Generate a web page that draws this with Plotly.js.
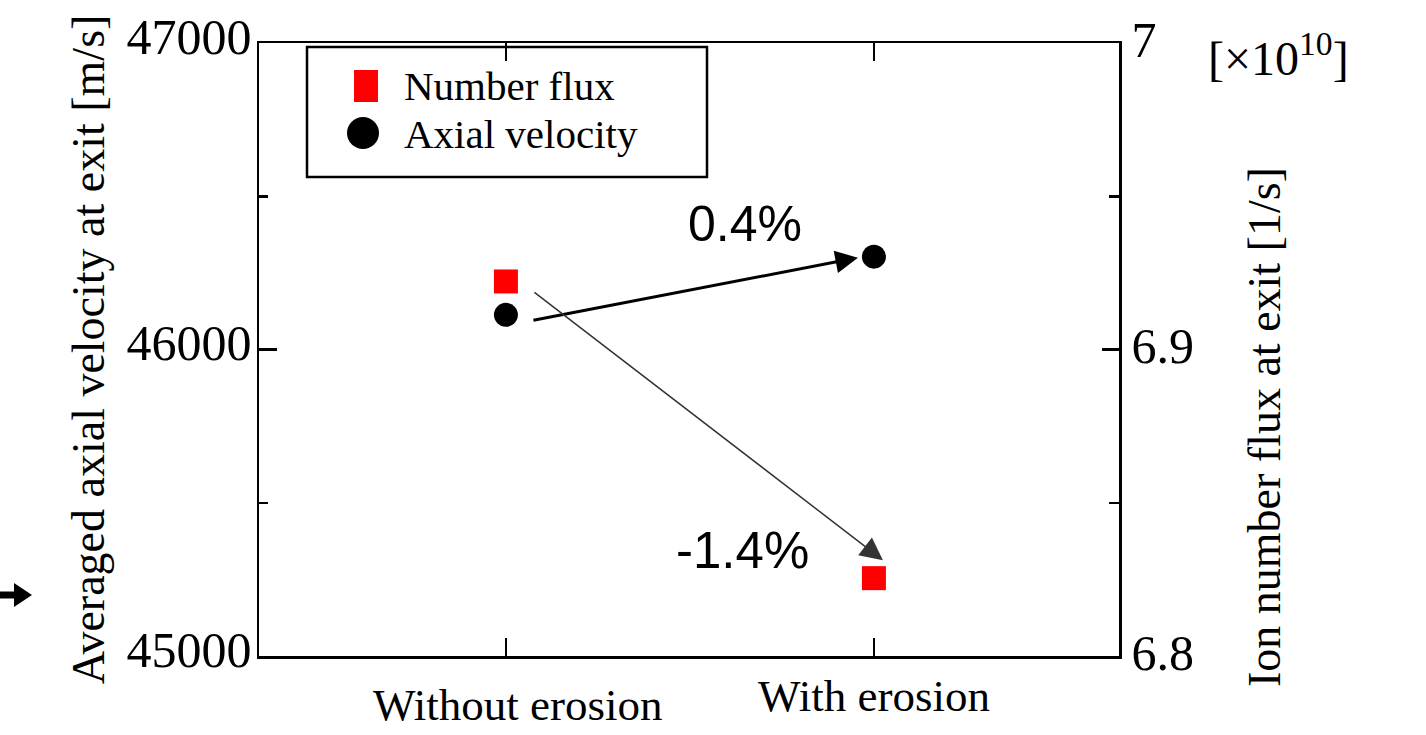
<!DOCTYPE html>
<html>
<head>
<meta charset="utf-8">
<script src="https://cdn.plot.ly/plotly-3.0.1.min.js"></script>
<style>html,body{margin:0;padding:0;background:#fff;}#chart{width:1426px;height:735px;}</style>
</head>
<body>
<div id="chart"></div>
<script>
// ---- data ----
const categories = ["Without erosion", "With erosion"];
const numberFlux = [6.9222, 6.8254];        // [x10^10 1/s]
const axialVelocity = [46113, 46303];       // [m/s]
const leftTickVals = [45000, 46000, 47000];
const rightTickVals = [6.8, 6.9, 7.0];
const seriesNames = ["Number flux", "Axial velocity"];

const serif = "Liberation Serif, Times New Roman, serif";
const sans = "Liberation Sans, Arial, sans-serif";

// plot-area pixel frame (for placing decorations in paper coordinates)
const L = 259, R = 1119, T = 43, B = 656;
const px = p => (p - L) / (R - L);
const py = p => (B - p) / (B - T);

const pct = a => ((a[1] / a[0] - 1) * 100).toFixed(1) + "%";

const traces = [
  { x: categories, y: numberFlux, yaxis: "y2", type: "scatter", mode: "markers",
    name: seriesNames[0], showlegend: false, marker: { symbol: "square", size: 24, color: "#ff0000" } },
  { x: categories, y: axialVelocity, yaxis: "y", type: "scatter", mode: "markers",
    name: seriesNames[1], showlegend: false, marker: { symbol: "circle", size: 24, color: "#000000" } }
];

const layout = {
  width: 1426, height: 735,
  margin: { l: L, r: 1426 - R, t: T, b: 735 - B },
  paper_bgcolor: "#ffffff", plot_bgcolor: "#ffffff",
  font: { family: serif, color: "#000" },
  showlegend: false,
  xaxis: {
    type: "category", range: [-0.671, 1.666],
    showline: true, linecolor: "#000", linewidth: 2.5, mirror: "ticks",
    ticks: "inside", ticklen: 18, tickwidth: 2.5, tickcolor: "#000",
    showgrid: false, zeroline: false, showticklabels: false
  },
  yaxis: {
    range: [45000, 47000], showline: true, linecolor: "#000", linewidth: 2.5,
    ticks: "inside", ticklen: 18, tickwidth: 2.5, tickcolor: "#000",
    tickmode: "array", tickvals: leftTickVals, ticktext: leftTickVals.map(String),
    minor: { tickvals: [45500, 46500], ticks: "inside", ticklen: 9, tickwidth: 2.5, tickcolor: "#000" },
    showgrid: false, zeroline: false, ticklabelshift: -7, ticklabelstandoff: -5,
    tickfont: { family: serif, size: 50, color: "#000" },
    title: { text: "Averaged axial velocity at exit [m/s]", font: { family: serif, size: 46, color: "#000" }, standoff: 8 }
  },
  yaxis2: {
    overlaying: "y", side: "right", range: [6.8, 7.0],
    showline: true, linecolor: "#000", linewidth: 2.5,
    ticks: "inside", ticklen: 17, tickwidth: 2.5, tickcolor: "#000",
    tickmode: "array", tickvals: rightTickVals, ticktext: rightTickVals.map(v => String(+v.toFixed(1))),
    minor: { tickvals: [6.85, 6.95], ticks: "inside", ticklen: 10, tickwidth: 2.5, tickcolor: "#000" },
    showgrid: false, zeroline: false, ticklabelshift: -4,
    tickfont: { family: serif, size: 50, color: "#000" }
  },
  shapes: [
    // legend box
    { type: "rect", xref: "paper", yref: "paper", x0: px(307), x1: px(707), y0: py(177), y1: py(47),
      line: { color: "#000", width: 2.5 }, fillcolor: "#fff", layer: "below" },
    // legend symbols
    { type: "rect", xref: "paper", yref: "paper", x0: px(354), x1: px(378), y0: py(102), y1: py(70),
      line: { width: 0 }, fillcolor: "#ff0000" },
    { type: "circle", xref: "paper", yref: "paper", x0: px(347), x1: px(379), y0: py(149), y1: py(117),
      line: { width: 0 }, fillcolor: "#000000" },
    // stray arrow at left edge (shaft + head)
    { type: "line", xref: "paper", yref: "paper", x0: px(-2), x1: px(16), y0: py(595), y1: py(595),
      line: { color: "#000", width: 7 } },
    { type: "path", xref: "paper", yref: "paper",
      path: `M ${px(14)},${py(583)} L ${px(32)},${py(595)} L ${px(14)},${py(607)} Z`,
      line: { width: 0 }, fillcolor: "#000" }
  ],
  annotations: [
    // legend texts
    { x: px(402), y: py(86), xref: "paper", yref: "paper", xanchor: "left", yanchor: "middle", showarrow: false,
      text: seriesNames[0], font: { family: serif, size: 41, color: "#000" } },
    { x: px(402), y: py(134), xref: "paper", yref: "paper", xanchor: "left", yanchor: "middle", showarrow: false,
      text: seriesNames[1], font: { family: serif, size: 41, color: "#000" } },
    // category labels
    { x: categories[0], y: py(705), xref: "x", yref: "paper", xshift: 12, xanchor: "center", yanchor: "middle",
      showarrow: false, text: categories[0], font: { family: serif, size: 45, color: "#000" } },
    { x: categories[1], y: py(696), xref: "x", yref: "paper", xanchor: "center", yanchor: "middle",
      showarrow: false, text: categories[1], font: { family: serif, size: 45, color: "#000" } },
    // right axis title
    { x: px(1265), y: py(427), xref: "paper", yref: "paper", xanchor: "center", yanchor: "middle", textangle: -90,
      showarrow: false, text: "Ion number flux at exit [1/s]", font: { family: serif, size: 46, color: "#000" } },
    // exponent label
    { x: px(1278), y: py(55), xref: "paper", yref: "paper", xanchor: "center", yanchor: "middle", showarrow: false,
      text: "[×10<sup>10</sup>]", font: { family: serif, size: 48, color: "#000" } },
    // arrows
    { x: categories[1], y: axialVelocity[1], xref: "x", yref: "y", xshift: -16, yshift: -1,
      ax: -326, ay: 63, showarrow: true, arrowhead: 2, arrowsize: 1.5, arrowwidth: 3, arrowcolor: "#000", text: "" },
    { x: categories[1], y: numberFlux[1], xref: "x", yref: "y2", xshift: 9, yshift: 18,
      ax: -350, ay: -269, showarrow: true, arrowhead: 2, arrowsize: 3, arrowwidth: 1.5, arrowcolor: "#333", text: "" },
    // percentage labels
    { x: px(745), y: py(224), xref: "paper", yref: "paper", xanchor: "center", yanchor: "middle", showarrow: false,
      text: pct(axialVelocity), font: { family: sans, size: 50, color: "#000" } },
    { x: px(742), y: py(550), xref: "paper", yref: "paper", xanchor: "center", yanchor: "middle", showarrow: false,
      text: pct(numberFlux), font: { family: sans, size: 51, color: "#000" } }
  ]
};

Plotly.newPlot("chart", traces, layout, { displayModeBar: false, staticPlot: true });
</script>
</body>
</html>
